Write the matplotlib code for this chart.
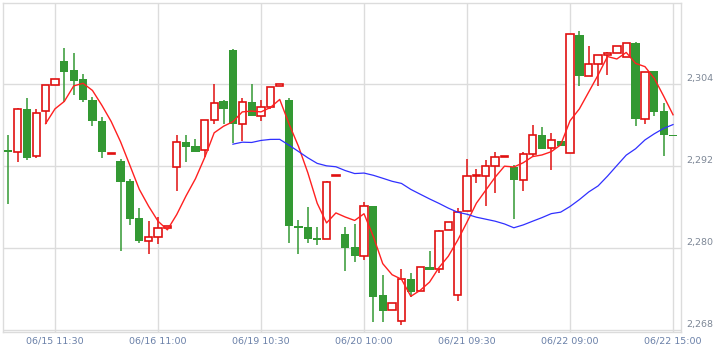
import matplotlib
matplotlib.use("Agg")
import matplotlib.pyplot as plt
import matplotlib.transforms as mtransforms
import numpy as np
import pandas as pd

# 30-minute bars
opens = [2294.3, 2294.0, 2300.3, 2293.4, 2300.0, 2303.8, 2307.4, 2306.0, 2304.7, 2301.7,
         2298.6, 2293.8, 2292.7, 2289.8, 2284.4, 2281.0, 2281.6, 2283.0, 2291.8, 2295.5,
         2294.9, 2294.3, 2298.7, 2301.5, 2309.0, 2298.1, 2301.4, 2299.3, 2300.6, 2303.7,
         2301.7, 2283.2, 2283.1, 2281.5, 2281.3, 2290.5, 2282.1, 2280.1, 2278.8, 2286.1,
         2273.1, 2271.0, 2269.3, 2275.5, 2273.7, 2277.3, 2276.9, 2282.7, 2273.1, 2285.4,
         2290.6, 2290.6, 2292.0, 2293.3, 2291.8, 2290.0, 2293.7, 2296.5, 2294.6, 2295.7,
         2293.9, 2311.2, 2305.2, 2306.9, 2308.2, 2308.6, 2307.9, 2310.0, 2298.9, 2305.9,
         2300.1, 2296.6]
highs = [2296.6, 2300.5, 2301.9, 2300.4, 2303.8, 2304.8, 2309.2, 2308.5, 2305.4, 2302.1,
         2299.1, 2293.9, 2293.1, 2290.1, 2285.8, 2283.9, 2284.6, 2283.3, 2296.5, 2296.6,
         2296.0, 2298.7, 2304.0, 2301.6, 2309.1, 2302.0, 2304.0, 2301.6, 2303.5, 2304.0,
         2301.9, 2284.1, 2286.0, 2283.1, 2289.8, 2290.6, 2283.1, 2283.5, 2286.7, 2286.1,
         2276.0, 2271.9, 2277.0, 2276.3, 2277.3, 2279.5, 2282.6, 2283.8, 2285.8, 2293.1,
         2291.6, 2292.9, 2294.0, 2293.4, 2292.1, 2294.0, 2298.0, 2297.7, 2296.8, 2295.7,
         2311.3, 2311.8, 2309.6, 2308.2, 2308.7, 2309.5, 2310.0, 2310.1, 2305.8, 2305.9,
         2301.2, 2296.6]
lows = [2286.4, 2292.6, 2292.9, 2293.2, 2298.2, 2303.8, 2301.4, 2302.4, 2301.3, 2297.9,
        2293.2, 2293.8, 2279.6, 2283.4, 2280.7, 2279.1, 2280.6, 2283.0, 2288.4, 2292.6,
        2294.1, 2293.3, 2298.1, 2298.2, 2295.3, 2295.6, 2299.3, 2298.6, 2300.3, 2303.7,
        2280.7, 2279.1, 2280.7, 2280.4, 2281.3, 2290.5, 2276.6, 2277.9, 2278.3, 2269.2,
        2269.2, 2271.0, 2268.8, 2272.9, 2273.7, 2276.8, 2276.3, 2282.7, 2272.2, 2285.4,
        2289.5, 2286.2, 2288.0, 2293.3, 2284.2, 2288.3, 2293.5, 2294.5, 2291.4, 2295.0,
        2293.9, 2303.7, 2305.2, 2303.7, 2305.3, 2308.6, 2307.9, 2297.9, 2298.1, 2299.3,
        2293.4, 2296.4]
closes = [2294.0, 2300.3, 2293.2, 2299.7, 2303.8, 2304.8, 2305.8, 2304.5, 2301.6, 2298.6,
          2294.0, 2293.9, 2289.7, 2284.3, 2281.1, 2281.6, 2283.0, 2283.3, 2295.5, 2294.8,
          2294.1, 2298.7, 2301.2, 2300.3, 2298.1, 2301.3, 2299.3, 2300.6, 2303.5, 2304.0,
          2283.3, 2283.0, 2281.3, 2281.2, 2289.6, 2290.6, 2280.0, 2278.8, 2286.1, 2272.9,
          2270.8, 2271.9, 2275.5, 2273.6, 2277.3, 2276.8, 2282.5, 2283.8, 2285.3, 2290.6,
          2290.6, 2292.0, 2293.3, 2293.4, 2290.0, 2293.7, 2296.5, 2294.5, 2295.8, 2295.0,
          2311.3, 2305.2, 2306.9, 2308.2, 2308.5, 2309.5, 2310.0, 2298.9, 2305.8, 2299.9,
          2296.5, 2296.4]

tick_labels = ["06/15 11:30", "06/16 11:00", "06/19 10:30", "06/20 10:00",
               "06/21 09:30", "06/22 09:00", "06/22 15:00"]
y_ticks = [2268, 2280, 2292, 2304]

UP = "#e01010"
DOWN = "#339933"
GRID = "#dcdcdc"

df = pd.DataFrame({"open": opens, "high": highs, "low": lows, "close": closes})
df["ma5"] = df["close"].rolling(5).mean()
df["ma25"] = df["close"].rolling(25).mean()
x = np.arange(len(df))
up = df["close"] >= df["open"]

fig = plt.figure(figsize=(7.25, 3.54), dpi=100)
ax = fig.add_axes([3 / 725, 22 / 354, 678 / 725, 329 / 354])

colors = np.where(up, UP, DOWN)
ax.vlines(x, df["low"], df["high"], colors=colors, linewidth=1.1, zorder=2)
bottom = np.minimum(df["open"], df["close"])
height = np.maximum((df["close"] - df["open"]).abs(), 0.12)
ax.bar(x[up], height[up], bottom=bottom[up], width=0.78, facecolor="white",
       edgecolor=UP, linewidth=1.2, zorder=3)
ax.bar(x[~up], height[~up], bottom=bottom[~up], width=0.88, facecolor=DOWN,
       edgecolor=DOWN, linewidth=0, zorder=3)

ax.plot(x, df["ma5"], color="#ff2020", linewidth=1.0, zorder=4)
ax.plot(x, df["ma25"], color="#3030ff", linewidth=0.9, zorder=4)

ax.set_xlim(-0.55, 71.85)
ax.set_ylim(2267.72, 2315.85)

tick_pos = list(range(5, len(df), 11))
ax.set_xticks(tick_pos)
ax.set_xticklabels(tick_labels, fontsize=6.8, color="#6a80a8")
ax.set_yticks(y_ticks)
ax.set_yticklabels([f"{v:,}" for v in y_ticks], fontsize=6.8, color="#7d8796")
ax.yaxis.tick_right()
ax.tick_params(axis="both", length=0)
ax.tick_params(axis="x", pad=3)
ax.tick_params(axis="y", pad=3.5)
shift = mtransforms.ScaledTranslation(0, 7 / 100, fig.dpi_scale_trans)
for label in ax.get_yticklabels():
    label.set_transform(label.get_transform() + shift)

ax.grid(True, color=GRID, linewidth=1.0)
ax.set_axisbelow(True)
for spine in ax.spines.values():
    spine.set_color(GRID)
    spine.set_linewidth(1.0)

fig.savefig("out.png", dpi=100)
